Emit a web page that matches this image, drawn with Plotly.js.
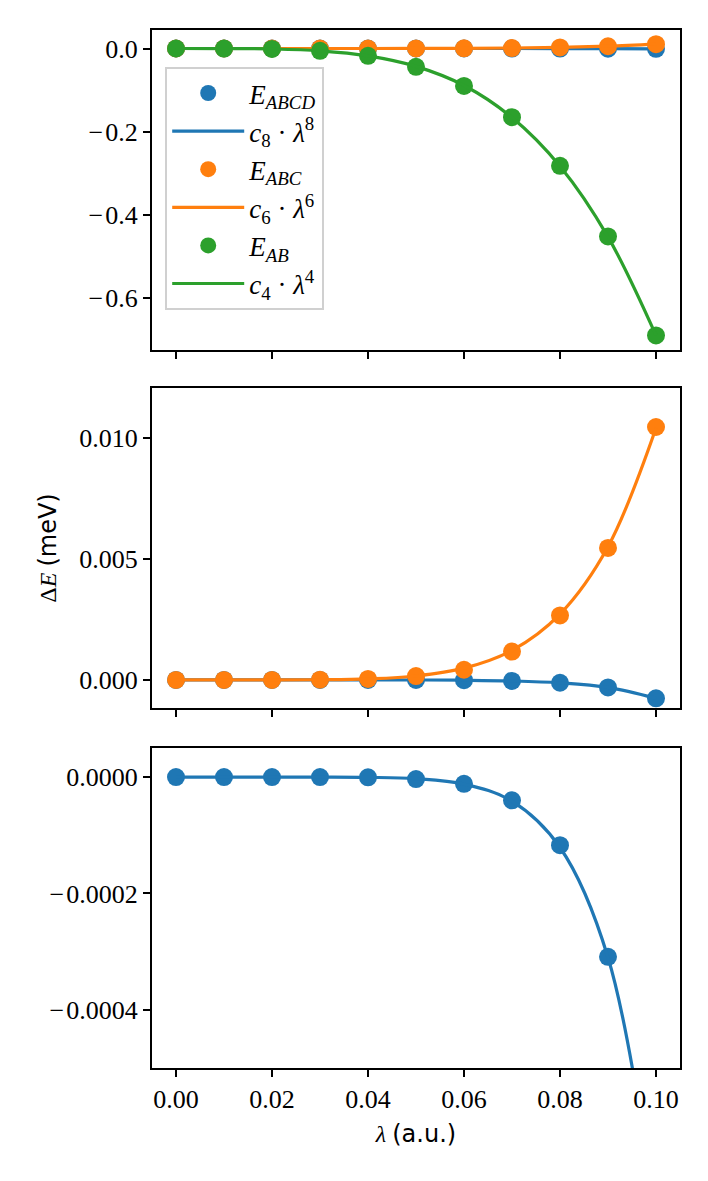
<!DOCTYPE html>
<html>
<head>
<meta charset="utf-8">
<script src="https://cdn.plot.ly/plotly-3.0.1.min.js"></script>
<style>
  html, body { margin: 0; padding: 0; background: #fff; }
  #plot { width: 708px; height: 1181px; }
</style>
</head>
<body>
<div id="plot"></div>
<script>
// lambda grid (a.u.)
const lam = [0.00, 0.01, 0.02, 0.03, 0.04, 0.05, 0.06, 0.07, 0.08, 0.09, 0.10];

// energies (meV)
const eAB   = [0, -0.0001, -0.0011, -0.0056, -0.0177, -0.044, -0.090, -0.165, -0.282, -0.452, -0.690];
const eABC  = [0, 0, 0, 0.0000075, 0.00004, 0.00016, 0.00042, 0.00117, 0.00266, 0.00545, 0.01044];
const eABCD = [0, 0, 0, -0.00000005, -0.0000005, -0.0000034, -0.0000115, -0.00004, -0.000117, -0.000309, -0.00076];

// fitted curves, read at the same lambda values
const fitAB   = [0, -0.0001, -0.0011, -0.0056, -0.0177, -0.043, -0.089, -0.166, -0.283, -0.453, -0.690];
const fitABC  = [0, 0, 0, 0.0000076, 0.000043, 0.000163, 0.000485, 0.00122, 0.00272, 0.0055, 0.0104];
const fitABCD = [0, 0, 0, -0.00000005, -0.0000005, -0.0000028, -0.0000121, -0.0000415, -0.000121, -0.00031, -0.00076];

const xTicks = [0, 0.02, 0.04, 0.06, 0.08, 0.10];
const xTickText = ['0.00', '0.02', '0.04', '0.06', '0.08', '0.10'];
const y1Ticks = [0, -0.2, -0.4, -0.6];
const y1TickText = ['0.0', '\u2212\u200a0.2', '\u2212\u200a0.4', '\u2212\u200a0.6'];
const y2Ticks = [0, 0.005, 0.010];
const y2TickText = ['0.000', '0.005', '0.010'];
const y3Ticks = [0, -0.0002, -0.0004];
const y3TickText = ['0.0000', '\u2212\u200a0.0002', '\u2212\u200a0.0004'];

const BLUE = '#1f77b4', ORANGE = '#ff7f0e', GREEN = '#2ca02c';
const SERIF = 'Liberation Serif, DejaVu Serif, serif';

function pts(y, color, name, xa, ya, legend) {
  return {
    type: 'scatter', mode: 'markers', x: lam, y: y, name: name,
    xaxis: xa, yaxis: ya, showlegend: legend,
    marker: { color: color, size: 18 }
  };
}
function fit(y, color, name, xa, ya, legend) {
  return {
    type: 'scatter', mode: 'lines', x: lam, y: y, name: name,
    xaxis: xa, yaxis: ya, showlegend: legend,
    line: { color: color, width: 3.2, shape: 'spline', smoothing: 1 }
  };
}

const data = [
  pts(eABCD, BLUE, '<i>E</i><sub><i>ABCD</i></sub>', 'x', 'y', true),
  fit(fitABCD, BLUE, '<i>c</i><sub>8</sub> · <i>λ</i><sup>8</sup>', 'x', 'y', true),
  pts(eABC, ORANGE, '<i>E</i><sub><i>ABC</i></sub>', 'x', 'y', true),
  fit(fitABC, ORANGE, '<i>c</i><sub>6</sub> · <i>λ</i><sup>6</sup>', 'x', 'y', true),
  pts(eAB, GREEN, '<i>E</i><sub><i>AB</i></sub>', 'x', 'y', true),
  fit(fitAB, GREEN, '<i>c</i><sub>4</sub> · <i>λ</i><sup>4</sup>', 'x', 'y', true),

  pts(eABCD, BLUE, 'E_ABCD', 'x2', 'y2', false),
  fit(fitABCD, BLUE, 'c8', 'x2', 'y2', false),
  pts(eABC, ORANGE, 'E_ABC', 'x2', 'y2', false),
  fit(fitABC, ORANGE, 'c6', 'x2', 'y2', false),

  pts(eABCD, BLUE, 'E_ABCD', 'x3', 'y3', false),
  fit(fitABCD, BLUE, 'c8', 'x3', 'y3', false)
];

const axisBase = {
  showline: true, mirror: true, linecolor: '#000', linewidth: 2,
  ticks: 'outside', ticklen: 7, tickwidth: 2, tickcolor: '#000',
  showgrid: false, zeroline: false,
  tickfont: { family: SERIF, size: 26, color: '#000' }
};
const xBase = Object.assign({}, axisBase, {
  range: [-0.005, 0.105], tickmode: 'array', tickvals: xTicks, ticktext: xTickText
});

const layout = {
  width: 708, height: 1181,
  margin: { l: 152, r: 28, t: 30, b: 113 },
  paper_bgcolor: '#fff', plot_bgcolor: '#fff',
  showlegend: true,
  legend: {
    x: 0.025, y: 0.9644, xanchor: 'left', yanchor: 'top',
    bgcolor: 'rgba(255,255,255,0.8)', bordercolor: '#d0d0d0', borderwidth: 2,
    font: { family: SERIF, size: 27, color: '#000' },
    itemwidth: 72, tracegroupgap: 0
  },
  xaxis: Object.assign({}, xBase, { anchor: 'y', domain: [0, 1], showticklabels: false }),
  xaxis2: Object.assign({}, xBase, { anchor: 'y2', domain: [0, 1], showticklabels: false }),
  xaxis3: Object.assign({}, xBase, {
    anchor: 'y3', domain: [0, 1],
    title: { text: '<i>λ</i> <span style="font-family:DejaVu Sans">(a.u.)</span>',
             font: { family: SERIF, size: 24, color: '#000' }, standoff: 12 }
  }),
  yaxis: Object.assign({}, axisBase, {
    anchor: 'x', domain: [0.6917, 1], range: [-0.725, 0.0445],
    tickmode: 'array', tickvals: y1Ticks, ticktext: y1TickText
  }),
  yaxis2: Object.assign({}, axisBase, {
    anchor: 'x2', domain: [0.3468, 0.6551], range: [-0.00116, 0.01205],
    tickmode: 'array', tickvals: y2Ticks, ticktext: y2TickText,
    title: { text: 'Δ<i>E</i> <span style="font-family:DejaVu Sans">(meV)</span>',
             font: { family: SERIF, size: 24, color: '#000' }, standoff: 16 }
  }),
  yaxis3: Object.assign({}, axisBase, {
    anchor: 'x3', domain: [0, 0.3083], range: [-0.0005, 0.00005],
    tickmode: 'array', tickvals: y3Ticks, ticktext: y3TickText
  })
};

Plotly.newPlot('plot', data, layout, { displayModeBar: false, staticPlot: true });
</script>
</body>
</html>
